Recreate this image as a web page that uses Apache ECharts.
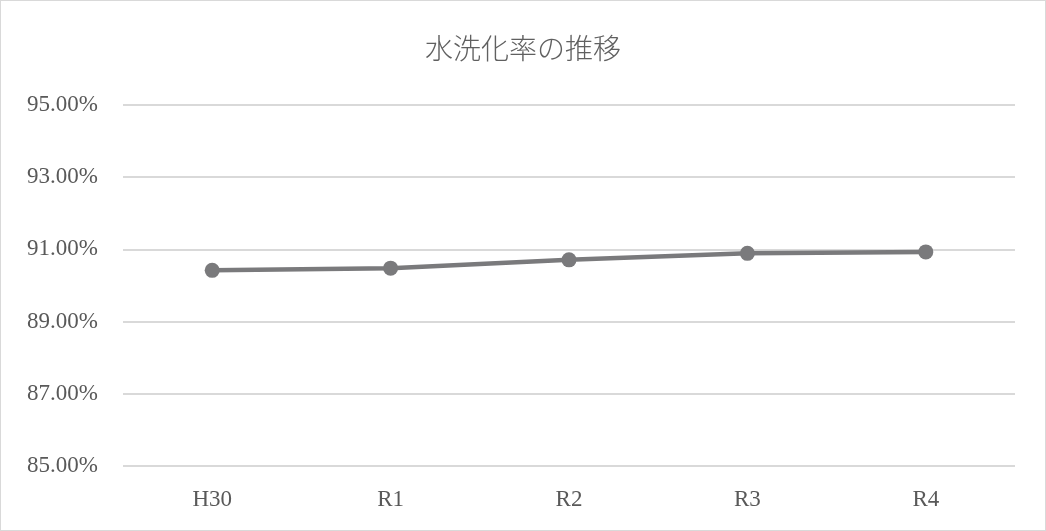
<!DOCTYPE html>
<html>
<head>
<meta charset="utf-8">
<script src="https://cdn.jsdelivr.net/npm/echarts@6/dist/echarts.min.js"></script>
<style>
  html, body { margin: 0; padding: 0; background: #fff; }
  #chart { width: 1046px; height: 531px; box-sizing: border-box; border: 1px solid #d9d9d9; }
</style>
</head>
<body>
<div id="chart"></div>
<script>
// Fiscal years and the sewer-connection rate (%) for each
const categories = ['H30', 'R1', 'R2', 'R3', 'R4'];
const rates = [90.42, 90.48, 90.71, 90.89, 90.93];
const yTicks = { min: 85, max: 95, step: 2 };

const chart = echarts.init(document.getElementById('chart'));
chart.setOption({
  animation: false,
  title: {
    text: '水洗化率の推移',
    left: 'center',
    top: 28,
    textStyle: {
      fontFamily: '"Noto Sans CJK JP"',
      fontWeight: 300,
      fontSize: 28,
      color: '#606060'
    }
  },
  grid: { left: 122, right: 30, top: 104, bottom: 64 },
  xAxis: {
    type: 'category',
    data: categories,
    boundaryGap: true,
    axisLine: { show: false },
    axisTick: { show: false },
    axisLabel: {
      margin: 22,
      fontFamily: '"Liberation Serif", serif',
      fontSize: 23,
      color: '#595959'
    }
  },
  yAxis: {
    type: 'value',
    min: yTicks.min,
    max: yTicks.max,
    interval: yTicks.step,
    axisLine: { show: false },
    axisTick: { show: false },
    splitLine: { lineStyle: { color: '#d9d9d9', width: 2 } },
    axisLabel: {
      margin: 25,
      fontFamily: '"Liberation Serif", serif',
      fontSize: 23,
      color: '#595959',
      formatter: v => v.toFixed(2) + '%'
    }
  },
  series: [{
    type: 'line',
    data: rates,
    symbol: 'circle',
    symbolSize: 15,
    lineStyle: { color: '#7a7a7c', width: 4.5 },
    itemStyle: { color: '#7a7a7c' }
  }]
});
</script>
</body>
</html>
